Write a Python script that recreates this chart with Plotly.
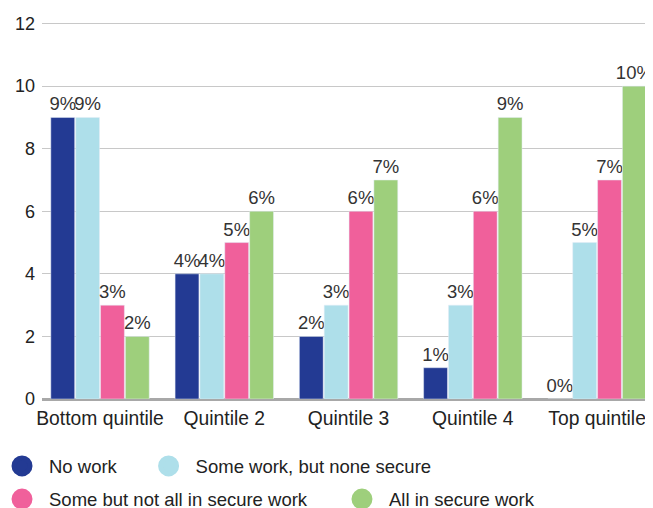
import plotly.graph_objects as go

categories = ["Bottom quintile", "Quintile 2", "Quintile 3", "Quintile 4", "Top quintile"]
series_names = ["No work", "Some work, but none secure", "Some but not all in secure work", "All in secure work"]
no_work = [9, 4, 2, 1, 0]
some_work_none_secure = [9, 4, 3, 3, 5]
some_secure = [3, 5, 6, 6, 7]
all_secure = [2, 6, 7, 9, 10]
y_ticks = [0, 2, 4, 6, 8, 10, 12]

colors = ["#233A93", "#AEDFEA", "#F0609B", "#9ECF7C"]
values = [no_work, some_work_none_secure, some_secure, all_secure]
FONT = "Liberation Sans, Arial, Helvetica, sans-serif"

fig = go.Figure()
for name, vals, col in zip(series_names, values, colors):
    fig.add_trace(go.Bar(
        x=categories, y=vals, name=name, marker_color=col,
        text=[f"{v}%" for v in vals], textposition="outside",
        textangle=0, constraintext="none", cliponaxis=False,
        textfont=dict(size=18.5, color="#333333", family=FONT),
        showlegend=False, hoverinfo="x+y",
    ))

legend_ids = ["legend", "legend2", "legend3", "legend4"]
# legend entries as round markers, one legend box per entry
for name, col, lid in zip(series_names, colors, legend_ids):
    fig.add_trace(go.Scatter(
        x=[None], y=[None], mode="markers", name=name,
        marker=dict(symbol="circle", size=16, color=col, line=dict(color=col, width=5)),
        legend=lid, showlegend=True,
    ))

def leg(x, y):
    return dict(orientation="h", x=x, xanchor="left", y=y, yanchor="middle",
                itemwidth=44, font=dict(size=18.5, family=FONT, color="#222222"),
                bgcolor="rgba(0,0,0,0)")

fig.update_layout(
    width=653, height=508,
    margin=dict(l=34, r=8, t=14.4, b=117, autoexpand=False),
    paper_bgcolor="white", plot_bgcolor="white",
    font=dict(family=FONT, size=18, color="#222222"),
    barmode="group", bargap=0.2, bargroupgap=0.04,
    xaxis=dict(range=[-0.467, 4.45], showgrid=False, showline=False, ticks="",
               tickfont=dict(size=19.3), ticklabelstandoff=6),
    yaxis=dict(range=[0, 12.05], tickvals=y_ticks, showgrid=True, gridcolor="#C8C8C8",
               gridwidth=1, zeroline=True, zerolinecolor="#A8A8A8", zerolinewidth=3,
               showline=False, ticks="", tickfont=dict(size=18), ticklabelstandoff=6),
    legend=leg(-0.0769, -0.1787),
    legend2=leg(0.1630, -0.1787),
    legend3=leg(-0.0769, -0.2667),
    legend4=leg(0.4795, -0.2667),
)

fig.write_html("out.html")
